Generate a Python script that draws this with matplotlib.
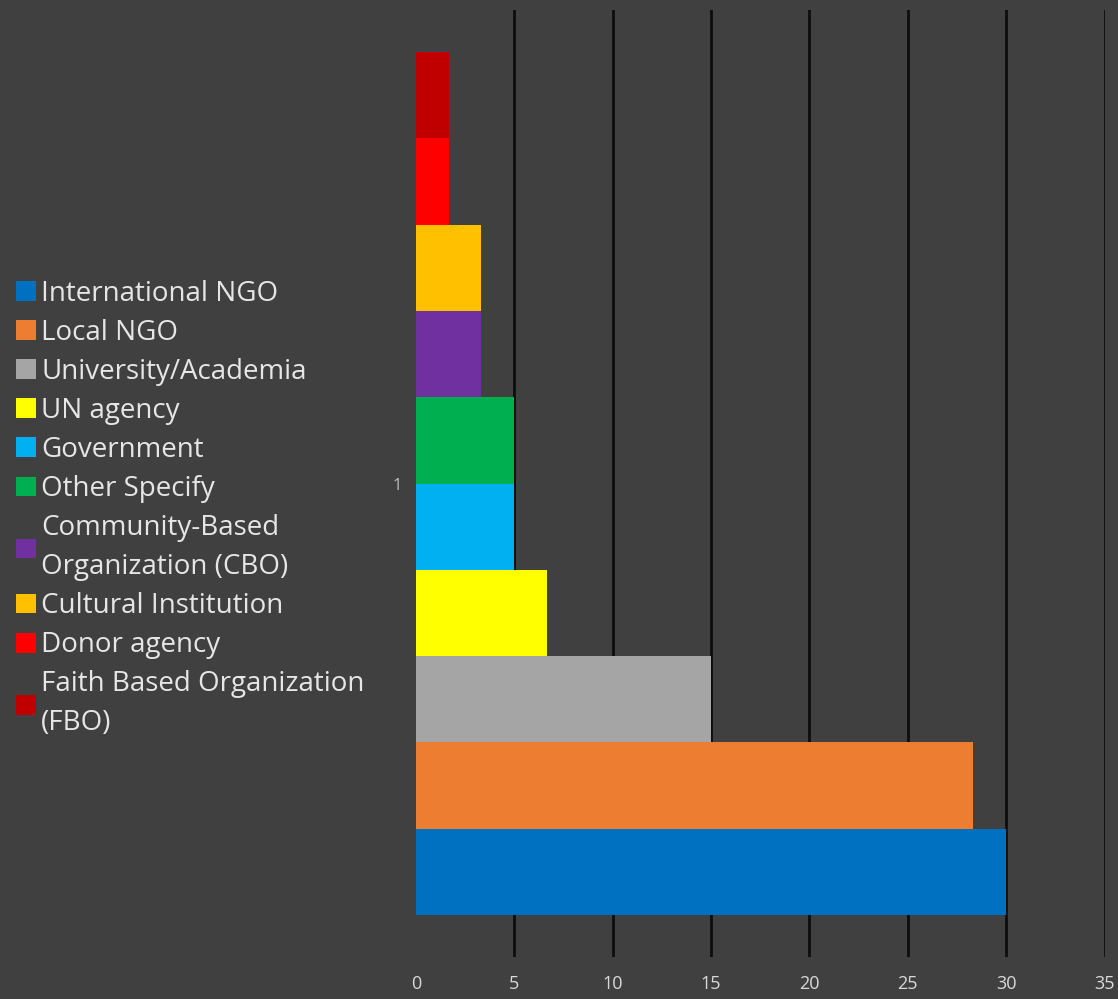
import numpy as np
import matplotlib.pyplot as plt
from matplotlib.patches import Patch

categories = ["International NGO", "Local NGO", "University/Academia", "UN agency",
              "Government", "Other Specify", "Community-Based\nOrganization (CBO)",
              "Cultural Institution", "Donor agency", "Faith Based Organization\n(FBO)"]
values = [30.0, 28.33, 15.0, 6.67, 5.0, 5.0, 3.33, 3.33, 1.67, 1.67]
colors = ["#0070C0", "#ED7D31", "#A5A5A5", "#FFFF00", "#00B0F0",
          "#00B050", "#7030A0", "#FFC000", "#FF0000", "#C00000"]
x_ticks = [0, 5, 10, 15, 20, 25, 30, 35]
group_label = "1"

bg = "#404040"
txt = "#D9D9D9"

plt.rcParams['font.family'] = ['Open Sans', 'DejaVu Sans']

fig = plt.figure(figsize=(11.18, 9.99), dpi=100, facecolor=bg)
ax = fig.add_axes([0.372, 0.042, 0.616, 0.948], facecolor=bg)

n = len(values)
group = 0.911
h = group / n
pos = -group / 2 + h / 2 + np.arange(n) * h
for p, v, c in zip(pos, values, colors):
    ax.barh(p, v, height=h, color=c, zorder=3)

ax.set_xlim(0, 35)
ax.set_ylim(-0.5, 0.5)
ax.set_xticks(x_ticks)
ax.set_yticks([0])
ax.set_yticklabels([group_label])
ax.tick_params(axis='x', length=0, colors=txt, labelsize=13, pad=13)
ax.tick_params(axis='y', length=0, colors="#BFBFBF", labelsize=12, pad=10)
for s in ax.spines.values():
    s.set_visible(False)
ax.grid(axis='x', color="#0D0D0D", linewidth=2, zorder=1)
ax.xaxis.get_gridlines()[0].set_visible(False)

handles = [Patch(facecolor=c, edgecolor='none') for c in colors]
leg = fig.legend(handles, categories, loc='center left',
                 bbox_to_anchor=(0.0045, 0.491), frameon=False,
                 fontsize=20, labelcolor="#E6E6E6", handlelength=0.72, handleheight=0.72,
                 handletextpad=0.18, labelspacing=0.40, borderaxespad=0)
for t in leg.get_texts():
    t.set_linespacing(1.52)

fig.savefig("out.png", dpi=100, facecolor=bg)
